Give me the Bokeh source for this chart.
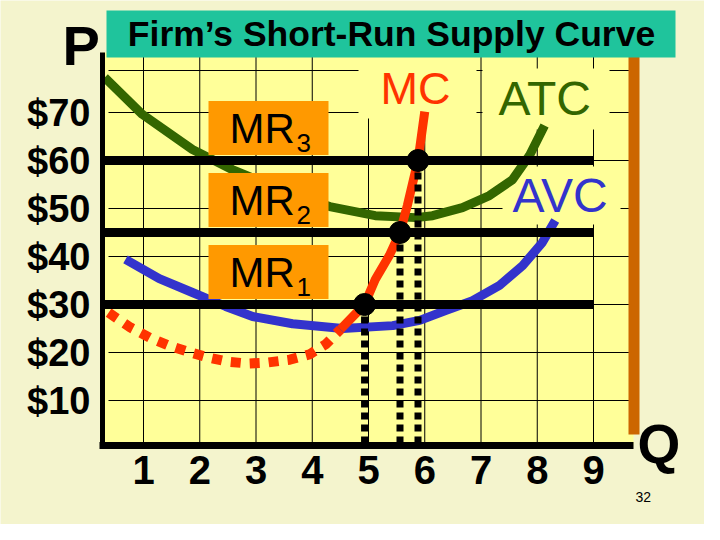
from bokeh.plotting import figure
from bokeh.models import Range1d
from bokeh.embed import file_html
from bokeh.resources import INLINE
from bokeh.core.properties import value

# ---------------- data ----------------
quantity_ticks = [1, 2, 3, 4, 5, 6, 7, 8, 9]
quantity_labels = ["1", "2", "3", "4", "5", "6", "7", "8", "9"]
price_ticks = [10, 20, 30, 40, 50, 60, 70]
price_labels = ["$10", "$20", "$30", "$40", "$50", "$60", "$70"]
price_grid = [10, 20, 30, 40, 50, 60, 70, 78.75]

atc_q = [0.31, 0.98, 1.87, 2.58, 3.47, 4.31, 5.12, 5.84, 6.14, 6.67, 7.15, 7.56, 7.86, 8.13]
atc_p = [77.3, 69.6, 62.3, 58.1, 53.75, 50.4, 48.5, 48.1, 48.5, 50.2, 52.7, 56.0, 61.0, 67.3]

avc_q = [0.68, 1.28, 1.87, 2.46, 2.94, 3.65, 4.54, 5.43, 5.91, 6.37, 6.85, 7.33, 7.74, 8.09, 8.32]
avc_p = [39.4, 35.4, 32.5, 29.6, 27.5, 26.0, 25.0, 25.6, 26.7, 28.75, 30.8, 34.0, 38.1, 42.9, 47.5]

mc_low_q = [0.38, 0.77, 1.11, 1.44, 1.78, 2.14, 2.49, 2.85, 3.20, 3.60, 3.95, 4.24, 4.50]
mc_low_p = [28.3, 25.2, 23.1, 21.5, 20.2, 19.0, 18.1, 17.7, 17.9, 18.5, 19.6, 21.7, 24.8]
mc_high_q = [4.50, 4.93, 5.12, 5.37, 5.56, 5.69, 5.88, 6.00]
mc_high_p = [24.8, 30.0, 35.2, 40.2, 45.0, 50.6, 60.0, 70.2]

mr_levels = [30, 45, 60]
mr_subscripts = ["1", "2", "3"]
supply_q = [4.93, 5.56, 5.88]

title_text = "Firm\u2019s Short-Run Supply Curve"

# ---------------- layout helpers (slide pixel -> data) ----------------
X0, DX = 94.75, 56.25   # slide x pixel of q=0, pixels per unit of output
Y0, DY = 456.0, 4.8     # slide y pixel of $0, pixels per dollar


def qx(px):
    return (px - X0) / DX


def py(px):
    return (Y0 - px) / DY


FONT = value("Liberation Sans")
YELLOW = "#ffff99"
CREAM = "#f4f4cd"

p = figure(width=704, height=524,
           x_range=Range1d(qx(8), qx(712)), y_range=Range1d(py(532), py(8)),
           x_axis_type=None, y_axis_type=None,
           output_backend="svg", toolbar_location=None, min_border=0)
p.background_fill_color = CREAM
p.border_fill_color = CREAM
p.outline_line_color = None
p.grid.visible = False

AX_X = qx(110)     # price axis position
AX_Y = py(453)     # quantity axis position
TOP_Y = py(60)
RIGHT_X = qx(641)

# plot area
p.quad(left=[AX_X], right=[RIGHT_X], bottom=[AX_Y], top=[TOP_Y],
       fill_color=YELLOW, line_color=None)

# grid
n = len(quantity_ticks)
p.segment(x0=quantity_ticks, x1=quantity_ticks, y0=[AX_Y] * n, y1=[TOP_Y] * n,
          line_color="black", line_width=1)
m = len(price_grid)
p.segment(x0=[qx(116)] * m, x1=[qx(637)] * m, y0=price_grid, y1=price_grid,
          line_color="black", line_width=1)

# masks behind curve labels (text boxes hiding the grid)
p.quad(left=[qx(366), qx(490), qx(510)], right=[qx(484), qx(617), qx(628)],
       bottom=[py(126), py(137), py(232)], top=[py(62), py(76), py(174)],
       fill_color=YELLOW, line_color=None)

# orange frame bar at right
p.quad(left=[qx(636)], right=[qx(647)], bottom=[py(442)], top=[py(60)],
       fill_color="#cc6600", line_color=None)

# cost curves
p.line(atc_q, atc_p, line_color="#336600", line_width=9)
p.line(avc_q, avc_p, line_color="#3333cc", line_width=9)
p.line(mc_low_q, mc_low_p, line_color="#ff3300", line_width=10, line_dash="10 9")
p.line(mc_high_q, mc_high_p, line_color="#ff3300", line_width=9)

# dotted drops to the quantity axis
k = len(supply_q)
p.segment(x0=supply_q, y0=mr_levels, x1=supply_q, y1=[0] * k,
          line_color="black", line_width=7, line_dash="7 5")

# MR lines
p.segment(x0=[AX_X] * k, y0=mr_levels, x1=[9] * k, y1=mr_levels,
          line_color="black", line_width=9)

# axes lines
p.segment(x0=[AX_X], y0=[py(456)], x1=[AX_X], y1=[TOP_Y], line_color="black", line_width=5)
p.segment(x0=[qx(107)], y0=[AX_Y], x1=[RIGHT_X], y1=[AX_Y], line_color="black", line_width=7)

# supply points
p.scatter(supply_q, mr_levels, size=22, color="black")

# MR label boxes
line_px = [Y0 - DY * L for L in mr_levels]
p.quad(left=qx(216), right=qx(336),
       bottom=[py(y - 5.5) for y in line_px], top=[py(y - 59.5) for y in line_px],
       fill_color="#ff9900", line_color=None)
p.text(x=[qx(237)] * k, y=[py(y - 32.5) for y in line_px], text=["MR"] * k,
       text_font=FONT, text_font_size="42px", text_color="black",
       text_align="left", text_baseline="middle")
p.text(x=[qx(304)] * k, y=[py(y - 17.8) for y in line_px], text=mr_subscripts,
       text_font=FONT, text_font_size="26px", text_color="black",
       text_align="left", text_baseline="middle")

# curve names
p.text(x=[qx(388)], y=[py(96)], text=["MC"], text_font=FONT,
       text_font_size="45px", text_color="#ff3300", text_align="left",
       text_baseline="middle")
p.text(x=[qx(506)], y=[py(106)], text=["ATC"], text_font=FONT,
       text_font_size="48px", text_color="#336600", text_align="left",
       text_baseline="middle")
p.text(x=[qx(520)], y=[py(203)], text=["AVC"], text_font=FONT,
       text_font_size="48px", text_color="#3333cc", text_align="left",
       text_baseline="middle")

# tick labels
p.text(x=quantity_ticks, y=[py(477.5)] * n, text=quantity_labels, text_font=FONT,
       text_font_size="40px", text_font_style="bold", text_color="black",
       text_align="center", text_baseline="middle")
p.text(x=[qx(98)] * len(price_ticks), y=price_ticks, text=price_labels, text_font=FONT,
       text_font_size="38px", text_font_style="bold", text_color="black",
       text_align="right", text_baseline="middle")

# title bar
p.quad(left=[qx(114)], right=[qx(683)], bottom=[py(65)], top=[py(18)],
       fill_color="#1fc49c", line_color=None)
p.text(x=[qx(399)], y=[py(41.5)], text=[title_text], text_font=FONT,
       text_font_size="35.5px", text_font_style="bold", text_color="black",
       text_align="center", text_baseline="middle")

# axis letters and slide number
p.text(x=[qx(70)], y=[py(53)], text=["P"], text_font=FONT, text_font_size="56px",
       text_font_style="bold", text_color="black", text_align="left", text_baseline="middle")
p.text(x=[qx(645)], y=[py(451)], text=["Q"], text_font=FONT, text_font_size="55px",
       text_font_style="bold", text_color="black", text_align="left", text_baseline="middle")
p.text(x=[qx(643)], y=[py(504)], text=["32"], text_font=FONT, text_font_size="14px",
       text_color="black", text_align="left", text_baseline="middle")

open("out.html", "w").write(file_html(p, INLINE))
